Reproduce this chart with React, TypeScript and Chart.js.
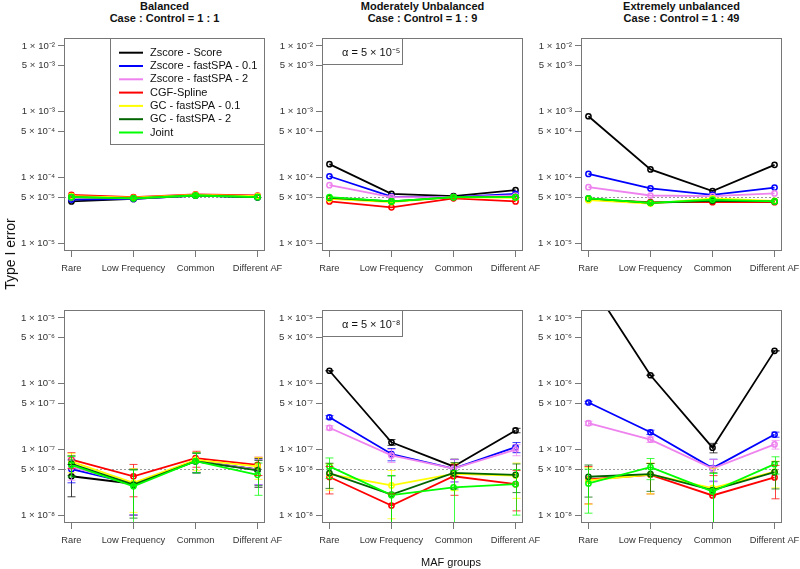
import React, { useEffect, useRef } from "react";
import { Chart, registerables } from "chart.js";

Chart.register(...registerables);

// ---------------- data ----------------
const categories = ["Rare", "Low Frequency", "Common", "Different AF"];
const seriesNames = [
  "Zscore - Score",
  "Zscore - fastSPA - 0.1",
  "Zscore - fastSPA - 2",
  "CGF-Spline",
  "GC - fastSPA - 0.1",
  "GC - fastSPA - 2",
  "Joint",
];
const seriesColors = ["#000000", "#0000FF", "#EE82EE", "#FF0000", "#FFFF00", "#006400", "#00FF00"];

const columnTitles = ["Balanced", "Moderately Unbalanced", "Extremely unbalanced"];
const columnSubtitles = ["Case : Control = 1 : 1", "Case : Control = 1 : 9", "Case : Control = 1 : 49"];

const alphaLevels = [5e-5, 5e-8];
const alphaLabels = ["α = 5 × 10⁻⁵", "α = 5 × 10⁻⁸"];
const topTicks = [1e-5, 5e-5, 1e-4, 5e-4, 1e-3, 5e-3, 1e-2];
const bottomTicks = [1e-8, 5e-8, 1e-7, 5e-7, 1e-6, 5e-6, 1e-5];

// rows = series (same order as seriesNames), columns = categories
const balanced5 = [
  [4.3e-5, 4.7e-5, 5.3e-5, 5.0e-5],
  [4.6e-5, 4.7e-5, 5.3e-5, 5.0e-5],
  [4.9e-5, 4.8e-5, 5.3e-5, 5.1e-5],
  [5.4e-5, 5.0e-5, 5.5e-5, 5.3e-5],
  [5.2e-5, 4.9e-5, 5.4e-5, 5.2e-5],
  [5.0e-5, 4.8e-5, 5.3e-5, 5.0e-5],
  [5.0e-5, 4.8e-5, 5.3e-5, 5.0e-5],
];
const moderate5 = [
  [1.59e-4, 5.6e-5, 5.2e-5, 6.4e-5],
  [1.04e-4, 5.1e-5, 5.0e-5, 5.6e-5],
  [7.6e-5, 5.0e-5, 5.0e-5, 5.3e-5],
  [4.3e-5, 3.5e-5, 4.8e-5, 4.3e-5],
  [4.7e-5, 4.2e-5, 5.0e-5, 4.9e-5],
  [4.9e-5, 4.3e-5, 5.0e-5, 5.0e-5],
  [5.0e-5, 4.3e-5, 5.0e-5, 5.0e-5],
];
const extreme5 = [
  [8.5e-4, 1.32e-4, 6.2e-5, 1.55e-4],
  [1.13e-4, 6.8e-5, 5.4e-5, 7.0e-5],
  [7.1e-5, 5.3e-5, 5.2e-5, 5.7e-5],
  [4.6e-5, 4.2e-5, 4.2e-5, 4.2e-5],
  [4.5e-5, 4.0e-5, 4.8e-5, 4.4e-5],
  [4.8e-5, 4.1e-5, 4.4e-5, 4.3e-5],
  [4.8e-5, 4.1e-5, 4.6e-5, 4.3e-5],
];
const balanced8 = [
  [3.9e-8, 3.0e-8, 6.6e-8, 4.95e-8],
  [5.0e-8, 3.0e-8, 6.6e-8, 4.9e-8],
  [5.4e-8, 3.0e-8, 6.7e-8, 4.9e-8],
  [7.0e-8, 3.9e-8, 7.35e-8, 5.8e-8],
  [6.5e-8, 3.1e-8, 6.9e-8, 5.5e-8],
  [6.0e-8, 2.9e-8, 6.6e-8, 4.8e-8],
  [5.8e-8, 2.75e-8, 6.6e-8, 4.1e-8],
];
const balanced8Err = [
  [2.0e-8, 2.0e-8, 2.2e-8, 2.3e-8],
  [1.9e-8, 2.0e-8, 2.2e-8, 2.0e-8],
  [2.0e-8, 2.0e-8, 2.2e-8, 2.0e-8],
  [1.9e-8, 2.0e-8, 2.0e-8, 1.8e-8],
  [2.1e-8, 2.0e-8, 2.1e-8, 2.0e-8],
  [2.0e-8, 2.0e-8, 2.2e-8, 2.0e-8],
  [2.0e-8, 2.1e-8, 2.2e-8, 2.1e-8],
];
const moderate8 = [
  [1.57e-6, 1.28e-7, 5.5e-8, 1.94e-7],
  [3.08e-7, 8.5e-8, 5.1e-8, 1.08e-7],
  [2.13e-7, 8.1e-8, 5.1e-8, 9.9e-8],
  [3.8e-8, 1.4e-8, 3.9e-8, 2.96e-8],
  [4.2e-8, 2.83e-8, 4.25e-8, 4.0e-8],
  [4.35e-8, 2.05e-8, 4.4e-8, 4.1e-8],
  [5.5e-8, 2.01e-8, 2.64e-8, 2.96e-8],
];
const moderate8Err = [
  [0.6e-8, 1.3e-8, 1.6e-8, 1.5e-8],
  [1.8e-8, 1.8e-8, 1.9e-8, 1.9e-8],
  [1.6e-8, 1.8e-8, 1.9e-8, 1.9e-8],
  [1.7e-8, 0.7e-8, 1.9e-8, 1.8e-8],
  [1.8e-8, 1.95e-8, 1.9e-8, 2.2e-8],
  [1.8e-8, 1.9e-8, 1.9e-8, 1.9e-8],
  [1.9e-8, 2.0e-8, 2.1e-8, 1.96e-8],
];
const extreme8 = [
  [3.8e-5, 1.34e-6, 1.06e-7, 3.15e-6],
  [5.16e-7, 1.82e-7, 5.18e-8, 1.68e-7],
  [2.5e-7, 1.41e-7, 5.1e-8, 1.19e-7],
  [3.48e-8, 4.1e-8, 1.99e-8, 3.74e-8],
  [3.37e-8, 4.15e-8, 2.57e-8, 4.6e-8],
  [3.83e-8, 4.2e-8, 2.4e-8, 4.5e-8],
  [3.03e-8, 5.36e-8, 2.29e-8, 5.96e-8],
];
const extreme8Err = [
  [0.5e-8, 0.8e-8, 1.75e-8, 1.2e-8],
  [2.2e-8, 1.4e-8, 1.9e-8, 1.5e-8],
  [1.8e-8, 1.4e-8, 1.9e-8, 1.8e-8],
  [2.0e-8, 2.0e-8, 2.0e-8, 1.97e-8],
  [1.9e-8, 2.05e-8, 2.6e-8, 2.0e-8],
  [1.95e-8, 1.9e-8, 2.0e-8, 2.0e-8],
  [1.96e-8, 1.9e-8, 2.0e-8, 1.75e-8],
];

// ---------------- layout ----------------
const W = 800;
const H = 569;
const COL_LEFT = [64, 322, 581];
const BOX_W = 201;
const ROW_TOP = [38, 310];
const BOX_H = 213;
const Y_AXIS_W = 60;
const X_AXIS_H = 30;
const FONT = "'Liberation Sans', Arial, Helvetica, sans-serif";
const FRAME = "#777777";

const SUP: Record<string, string> = {
  "-": "⁻", "0": "⁰", "1": "¹", "2": "²", "3": "³", "4": "⁴",
  "5": "⁵", "6": "⁶", "7": "⁷", "8": "⁸", "9": "⁹",
};
function sciLabel(v: number): string {
  const e = Math.floor(Math.log10(v) + 1e-9);
  const m = Math.round(v / Math.pow(10, e));
  const sup = String(e).split("").map((c) => SUP[c] || c).join("");
  return `${m} × 10${sup}`;
}

type PanelDef = {
  row: number;
  col: number;
  values: number[][];
  errs: number[][] | null;
  ticks: number[];
  alpha: number;
  legend: boolean;
  alphaBox: string | null;
};

const panels: PanelDef[] = [
  { row: 0, col: 0, values: balanced5, errs: null, ticks: topTicks, alpha: alphaLevels[0], legend: true, alphaBox: null },
  { row: 0, col: 1, values: moderate5, errs: null, ticks: topTicks, alpha: alphaLevels[0], legend: false, alphaBox: alphaLabels[0] },
  { row: 0, col: 2, values: extreme5, errs: null, ticks: topTicks, alpha: alphaLevels[0], legend: false, alphaBox: null },
  { row: 1, col: 0, values: balanced8, errs: balanced8Err, ticks: bottomTicks, alpha: alphaLevels[1], legend: false, alphaBox: null },
  { row: 1, col: 1, values: moderate8, errs: moderate8Err, ticks: bottomTicks, alpha: alphaLevels[1], legend: false, alphaBox: alphaLabels[1] },
  { row: 1, col: 2, values: extreme8, errs: extreme8Err, ticks: bottomTicks, alpha: alphaLevels[1], legend: false, alphaBox: null },
];

function makePlugin(def: PanelDef) {
  return {
    id: "panelDecor" + def.row + def.col,
    beforeDatasetsDraw(chart: any) {
      const { ctx, chartArea: a, scales } = chart;
      const y = scales.y.getPixelForValue(def.alpha);
      ctx.save();
      ctx.strokeStyle = "#9a9a9a";
      ctx.lineWidth = 1;
      ctx.setLineDash([2, 2]);
      ctx.beginPath();
      ctx.moveTo(a.left, Math.round(y) + 0.5);
      ctx.lineTo(a.right, Math.round(y) + 0.5);
      ctx.stroke();
      ctx.restore();
    },
    afterDatasetsDraw(chart: any) {
      const { ctx, chartArea: a, scales } = chart;
      const xs = scales.x;
      const ys = scales.y;
      if (def.errs) {
        ctx.save();
        ctx.beginPath();
        ctx.rect(a.left, a.top, a.right - a.left, a.bottom - a.top);
        ctx.clip();
        ctx.lineWidth = 1;
        ctx.globalAlpha = 0.75;
        def.errs.forEach((row, i) => {
          ctx.strokeStyle = seriesColors[i];
          row.forEach((h, j) => {
            const v = def.values[i][j];
            const lo = v - h;
            const hi = v + h;
            const x = Math.round(xs.getPixelForValue(j + 1)) + 0.5;
            const yHi = ys.getPixelForValue(hi);
            const yLo = lo > 0 ? ys.getPixelForValue(lo) : a.bottom + 10;
            ctx.beginPath();
            ctx.moveTo(x, yHi);
            ctx.lineTo(x, yLo);
            ctx.moveTo(x - 4, yHi);
            ctx.lineTo(x + 4, yHi);
            ctx.moveTo(x - 4, yLo);
            ctx.lineTo(x + 4, yLo);
            ctx.stroke();
          });
        });
        ctx.restore();
      }
      ctx.save();
      ctx.strokeStyle = FRAME;
      ctx.lineWidth = 1;
      ctx.strokeRect(a.left + 0.5, a.top + 0.5, a.right - a.left - 1, a.bottom - a.top - 1);
      ctx.restore();
    },
    afterDraw(chart: any) {
      const { ctx, chartArea: a } = chart;
      if (def.legend) {
        const bw = 155;
        const bh = 107;
        const left = a.right - bw;
        const top = a.top;
        ctx.save();
        ctx.fillStyle = "#ffffff";
        ctx.fillRect(left, top, bw, bh);
        ctx.strokeStyle = FRAME;
        ctx.lineWidth = 1;
        ctx.strokeRect(left + 0.5, top + 0.5, bw - 1, bh - 1);
        ctx.font = `11px ${FONT}`;
        ctx.textBaseline = "middle";
        ctx.textAlign = "left";
        seriesNames.forEach((name, i) => {
          const yy = top + 14.7 + i * 13.3;
          ctx.strokeStyle = seriesColors[i];
          ctx.lineWidth = 2;
          ctx.beginPath();
          ctx.moveTo(left + 9, yy);
          ctx.lineTo(left + 33, yy);
          ctx.stroke();
          ctx.fillStyle = "#111111";
          ctx.fillText(name, left + 40, yy);
        });
        ctx.restore();
      }
      if (def.alphaBox) {
        const bw = 81;
        const bh = 27;
        ctx.save();
        ctx.fillStyle = "#ffffff";
        ctx.fillRect(a.left, a.top, bw, bh);
        ctx.strokeStyle = FRAME;
        ctx.lineWidth = 1;
        ctx.strokeRect(a.left + 0.5, a.top + 0.5, bw - 1, bh - 1);
        ctx.font = `11px ${FONT}`;
        ctx.fillStyle = "#111111";
        ctx.textBaseline = "middle";
        ctx.textAlign = "left";
        ctx.fillText(def.alphaBox, a.left + 20, a.top + 15);
        ctx.restore();
      }
    },
  };
}

function makeConfig(def: PanelDef): any {
  const left = COL_LEFT[def.col];
  const top = ROW_TOP[def.row];
  const lo = Math.log10(def.ticks[0]);
  const hi = Math.log10(def.ticks[def.ticks.length - 1]);
  const ext = (hi - lo) * 0.04;
  const datasets = def.values.map((row, i) => ({
    label: seriesNames[i],
    data: row.map((v, j) => ({ x: j + 1, y: v })),
    borderColor: seriesColors[i],
    backgroundColor: seriesColors[i],
    pointBorderColor: seriesColors[i],
    pointBackgroundColor: "rgba(0,0,0,0)",
    pointRadius: 2.6,
    pointBorderWidth: 1.5,
    borderWidth: 1.8,
    tension: 0,
    fill: false,
    order: seriesNames.length - 1 - i,
  }));
  return {
    type: "line",
    data: { datasets },
    options: {
      responsive: false,
      animation: false,
      devicePixelRatio: 1,
      events: [],
      layout: {
        padding: {
          left: left - Y_AXIS_W,
          top: top,
          right: W - (left + BOX_W),
          bottom: H - (top + BOX_H) - X_AXIS_H,
        },
      },
      plugins: {
        legend: { display: false },
        tooltip: { enabled: false },
        title: { display: false },
      },
      scales: {
        x: {
          type: "linear",
          min: 1 - 3 * 0.04,
          max: 4 + 3 * 0.04,
          afterBuildTicks: (s: any) => {
            s.ticks = categories.map((_, i) => ({ value: i + 1 }));
          },
          ticks: {
            callback: (v: any) => categories[Math.round(Number(v)) - 1] ?? "",
            font: { family: FONT, size: 9.3 },
            color: "#333333",
            padding: 6,
            autoSkip: false,
            maxRotation: 0,
            minRotation: 0,
          },
          grid: { drawOnChartArea: false, drawTicks: true, tickLength: 6, color: FRAME },
          border: { display: false },
          afterFit: (s: any) => {
            s.height = X_AXIS_H;
            s.paddingLeft = 0;
            s.paddingRight = 0;
            s.paddingTop = 0;
            s.paddingBottom = 0;
          },
        },
        y: {
          type: "logarithmic",
          min: Math.pow(10, lo - ext),
          max: Math.pow(10, hi + ext),
          afterBuildTicks: (s: any) => {
            s.ticks = def.ticks.map((v) => ({ value: v }));
          },
          ticks: {
            callback: (v: any) => sciLabel(Number(v)),
            font: { family: FONT, size: 9.6 },
            color: "#333333",
            padding: 3,
            autoSkip: false,
          },
          grid: { drawOnChartArea: false, drawTicks: true, tickLength: 6, color: FRAME },
          border: { display: false },
          afterFit: (s: any) => {
            s.width = Y_AXIS_W;
            s.paddingLeft = 0;
            s.paddingRight = 0;
            s.paddingTop = 0;
            s.paddingBottom = 0;
          },
        },
      },
    },
    plugins: [makePlugin(def)],
  };
}

function Panel({ def }: { def: PanelDef }) {
  const ref = useRef<HTMLCanvasElement>(null);
  useEffect(() => {
    if (!ref.current) return;
    const chart = new Chart(ref.current, makeConfig(def));
    return () => chart.destroy();
  }, [def]);
  return (
    <canvas
      ref={ref}
      width={W}
      height={H}
      style={{ position: "absolute", left: 0, top: 0, width: W, height: H }}
    />
  );
}

export default function App() {
  return (
    <div
      style={{
        position: "absolute",
        left: 0,
        top: 0,
        width: W,
        height: H,
        background: "#ffffff",
        overflow: "hidden",
        fontFamily: FONT,
        color: "#111111",
      }}
    >
      {columnTitles.map((t, c) => (
        <div
          key={"t" + c}
          style={{
            position: "absolute",
            left: COL_LEFT[c] + BOX_W / 2 - 120,
            width: 240,
            top: -0.5,
            textAlign: "center",
            fontWeight: "bold",
            fontSize: 11,
            lineHeight: "12.5px",
          }}
        >
          <div>{t}</div>
          <div>{columnSubtitles[c]}</div>
        </div>
      ))}
      {panels.map((p, i) => (
        <Panel key={i} def={p} />
      ))}
      <div
        style={{
          position: "absolute",
          left: 10 - 60,
          top: 254 - 9,
          width: 120,
          height: 18,
          lineHeight: "18px",
          textAlign: "center",
          fontSize: 14,
          transform: "rotate(-90deg)",
          whiteSpace: "nowrap",
        }}
      >
        Type I error
      </div>
      <div
        style={{
          position: "absolute",
          left: 451 - 60,
          top: 562 - 8,
          width: 120,
          height: 16,
          lineHeight: "16px",
          textAlign: "center",
          fontSize: 11,
          whiteSpace: "nowrap",
        }}
      >
        MAF groups
      </div>
    </div>
  );
}
